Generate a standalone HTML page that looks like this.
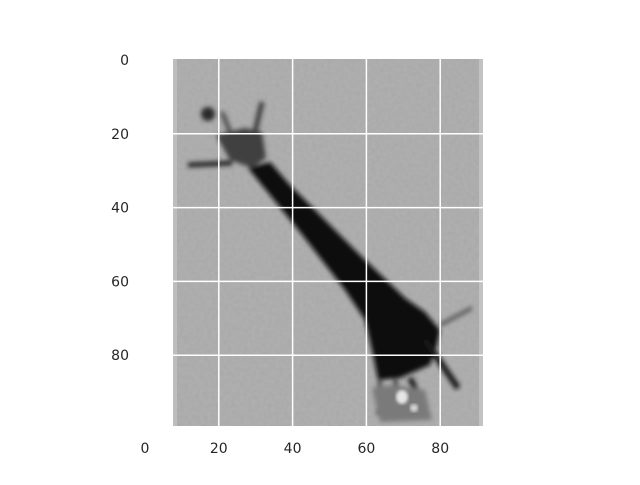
<!DOCTYPE html>
<html><head><meta charset="utf-8"><style>
body{margin:0;background:#fff}
text{font-family:"DejaVu Sans","Liberation Sans",sans-serif;font-size:14px;fill:#262626}
</style></head><body>
<svg width="640" height="480" viewBox="0 0 640 480">
<defs>
<filter id="bl" x="-20%" y="-20%" width="140%" height="140%"><feGaussianBlur stdDeviation="2.5"/></filter>
<filter id="bl2"><feGaussianBlur stdDeviation="1.5"/></filter>
<filter id="noise" x="0" y="0" width="100%" height="100%">
<feTurbulence type="fractalNoise" baseFrequency="0.25" numOctaves="2" seed="3"/>
<feColorMatrix type="matrix" values="0 0 0 0 0.66  0 0 0 0 0.66  0 0 0 0 0.66  0 0 0 0.35 0"/>
</filter>
</defs>
<g>
<rect x="173" y="59" width="310" height="367" fill="#a8a8a8"/>
<rect x="173" y="59" width="310" height="367" filter="url(#noise)" opacity="0.6"/>
<rect x="173" y="59" width="4" height="367" fill="#bdbdbd"/>
<rect x="479" y="59" width="4" height="367" fill="#c2c2c2"/>
<g filter="url(#bl)">
<polygon fill="#0e0e0e" points="248,168 300,232 345,290 365,320 372,350 378,380 400,378 430,365 437,345 440,330 425,312 405,298 360,255 320,215 290,185 270,162"/>
<polygon fill="#404040" points="216,135 245,128 262,132 266,158 252,168 230,160"/>
<line x1="188" y1="165" x2="232" y2="163" stroke="#202020" stroke-width="5"/>
<circle cx="208" cy="114" r="7" fill="#2a2a2a"/>
<line x1="255" y1="132" x2="262" y2="102" stroke="#3a3a3a" stroke-width="5"/>
<line x1="230" y1="132" x2="222" y2="112" stroke="#555" stroke-width="5"/>
<line x1="425" y1="340" x2="458" y2="388" stroke="#151515" stroke-width="6"/>
<line x1="440" y1="325" x2="472" y2="308" stroke="#5a5a5a" stroke-width="4"/>
<line x1="380" y1="380" x2="378" y2="415" stroke="#444" stroke-width="4"/>
<line x1="410" y1="378" x2="428" y2="415" stroke="#222" stroke-width="6"/>
<line x1="395" y1="380" x2="402" y2="410" stroke="#333" stroke-width="4"/>
<polygon fill="#7a7a7a" points="372,388 392,385 425,390 432,420 380,422"/>
</g>
<ellipse cx="402" cy="397" rx="6" ry="7" fill="#e6e6e6" filter="url(#bl2)"/>
<ellipse cx="414" cy="408" rx="4" ry="4" fill="#d6d6d6" filter="url(#bl2)"/>
</g>
<g id="grid"></g>
<g id="ticks"></g>
</svg>
<script>
const xTicks=[0,20,40,60,80];
const yTicks=[0,20,40,60,80];
const xs=v=>145+v*3.69;
const ys=v=>60+v*3.69;
const NS='http://www.w3.org/2000/svg';
const grid=document.getElementById('grid'),tk=document.getElementById('ticks');
function mk(tag,a,p){const e=document.createElementNS(NS,tag);for(const k in a)e.setAttribute(k,a[k]);p.appendChild(e);return e;}
xTicks.forEach(v=>{
 if(xs(v)>174){const l=mk('line',{x1:xs(v),x2:xs(v),y1:59,y2:426,stroke:'#fff','stroke-width':1.5},grid);
 
 }
 const t=mk('text',{x:xs(v),y:453,'text-anchor':'middle'},tk);t.textContent=v;
 
 
});
yTicks.forEach(v=>{
 if(ys(v)>62){const l=mk('line',{x1:173,x2:483,y1:ys(v),y2:ys(v),stroke:'#fff','stroke-width':1.5},grid);
 
 }
 const t=mk('text',{x:129,y:ys(v)+5,'text-anchor':'end'},tk);t.textContent=v;
 
 
});
</script>
</body></html>
